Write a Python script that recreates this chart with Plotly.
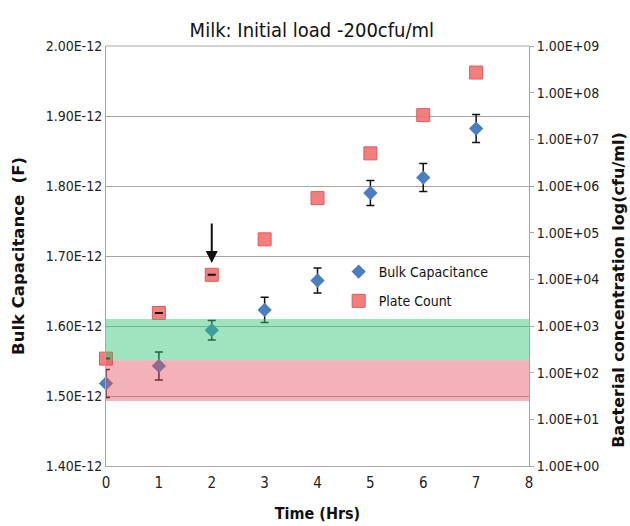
import plotly.graph_objects as go

# Sampling times (hours)
time_hrs = [0, 1, 2, 3, 4, 5, 6, 7]

# Bulk capacitance (F) with standard deviation
capacitance = [1.518e-12, 1.543e-12, 1.594e-12, 1.623e-12, 1.665e-12, 1.790e-12, 1.812e-12, 1.882e-12]
capacitance_err = [0.020e-12, 0.020e-12, 0.014e-12, 0.018e-12, 0.018e-12, 0.018e-12, 0.020e-12, 0.020e-12]

# Plate count (cfu/ml)
plate_count = [2.0e2, 1.9e3, 1.25e4, 7.2e4, 5.5e5, 5.0e6, 3.3e7, 2.7e8]

# Axis ticks
cap_ticks = [1.4e-12, 1.5e-12, 1.6e-12, 1.7e-12, 1.8e-12, 1.9e-12, 2.0e-12]
cap_labels = ["1.40E-12", "1.50E-12", "1.60E-12", "1.70E-12", "1.80E-12", "1.90E-12", "2.00E-12"]
conc_ticks = [1e0, 1e1, 1e2, 1e3, 1e4, 1e5, 1e6, 1e7, 1e8, 1e9]
conc_labels = ["1.00E+00", "1.00E+01", "1.00E+02", "1.00E+03", "1.00E+04",
               "1.00E+05", "1.00E+06", "1.00E+07", "1.00E+08", "1.00E+09"]

# Shaded capacitance bands
green_band = [1.551e-12, 1.610e-12]
red_band = [1.493e-12, 1.551e-12]

NARROW = "DejaVu Sans Condensed, Liberation Sans, Arial, sans-serif"
TICK_FONT = dict(family=NARROW, size=14, color="#222")
GRID = "#a6a6a6"

fig = go.Figure()

fig.add_trace(go.Scatter(
    x=time_hrs, y=capacitance, mode="markers", name="Bulk Capacitance",
    legendgroup="cap", cliponaxis=False,
    marker=dict(symbol="diamond", size=11, color="#4a7ebf"),
    error_y=dict(type="data", array=capacitance_err, visible=True,
                 color="#111", thickness=1.5, width=4),
    yaxis="y",
))

fig.add_trace(go.Scatter(
    x=time_hrs, y=plate_count, mode="markers", name="Plate Count",
    legendgroup="pc", cliponaxis=False,
    marker=dict(symbol="square", size=13, color="rgba(242,112,112,0.9)",
                line=dict(color="rgba(225,90,90,1)", width=1)),
    yaxis="y2",
))

# Small replicate-spread marks on the first plate counts
fig.add_trace(go.Scatter(
    x=time_hrs[:3], y=plate_count[:3], mode="markers", showlegend=False,
    legendgroup="pc", cliponaxis=False,
    marker=dict(size=1, opacity=0),
    error_y=dict(type="data", array=[0, 0, 0], visible=True,
                 color="#111", thickness=2, width=4),
    yaxis="y2", hoverinfo="skip",
))

fig.add_shape(type="rect", xref="x", yref="y", x0=0, x1=8,
              y0=green_band[0], y1=green_band[1],
              fillcolor="rgba(50,195,120,0.47)", line=dict(width=0), layer="above")
fig.add_shape(type="rect", xref="x", yref="y", x0=0, x1=8,
              y0=red_band[0], y1=red_band[1],
              fillcolor="rgba(228,85,95,0.45)", line=dict(width=0), layer="above")

# Arrow marking the detection point
fig.add_annotation(x=2, y=1.690e-12, xref="x", yref="y", ax=0, ay=-41,
                   showarrow=True, arrowhead=2, arrowsize=1.2, arrowwidth=2,
                   arrowcolor="#111", text="")

# Right-hand axis title
fig.add_annotation(text="<b>Bacterial concentration log(cfu/ml)</b>",
                   xref="paper", yref="paper", x=1.211, y=0.42,
                   xanchor="center", yanchor="middle", textangle=-90,
                   showarrow=False,
                   font=dict(family="DejaVu Sans, sans-serif", size=16, color="#111"))

fig.update_layout(
    width=630, height=526,
    margin=dict(l=106, r=101, t=46, b=60),
    paper_bgcolor="white", plot_bgcolor="white",
    title=dict(text="Milk: Initial load -200cfu/ml", x=0.495, xanchor="center",
               y=0.943, yanchor="middle",
               font=dict(family=NARROW, size=20, color="#111")),
    showlegend=True,
    legend=dict(x=0.55, y=0.5, xanchor="left", yanchor="top",
                bgcolor="rgba(0,0,0,0)",
                font=dict(family=NARROW, size=14, color="#111"),
                tracegroupgap=8),
    xaxis=dict(range=[0, 8], tickvals=list(range(9)), showgrid=False,
               showline=True, linecolor=GRID, linewidth=1, ticks="",
               tickfont=dict(family=NARROW, size=15, color="#222"),
               ticklabelstandoff=3, zeroline=False, automargin=False,
               title=dict(text="<b>Time (Hrs)</b>", standoff=16,
                          font=dict(family=NARROW, size=16, color="#111"))),
    yaxis=dict(range=[1.4e-12, 2.0e-12], tickvals=cap_ticks, ticktext=cap_labels,
               showgrid=True, gridcolor=GRID, gridwidth=1, zeroline=False,
               showline=True, linecolor=GRID, mirror=False, ticks="",
               tickfont=TICK_FONT, automargin=False,
               title=dict(text="<b>Bulk Capacitance  (F)</b>", standoff=16,
                          font=dict(family="DejaVu Sans, sans-serif", size=16.5, color="#111"))),
    yaxis2=dict(type="log", range=[0, 9], tickvals=conc_ticks, ticktext=conc_labels,
                overlaying="y", side="right", showgrid=False, zeroline=False,
                showline=True, linecolor=GRID, ticks="outside", ticklen=4,
                tickcolor=GRID, tickfont=TICK_FONT, automargin=False),
)

# top border line of the plot frame
fig.add_shape(type="line", xref="paper", yref="paper", x0=0, x1=1, y0=1, y1=1,
              line=dict(color=GRID, width=1), layer="below")

fig.write_html("out.html")
